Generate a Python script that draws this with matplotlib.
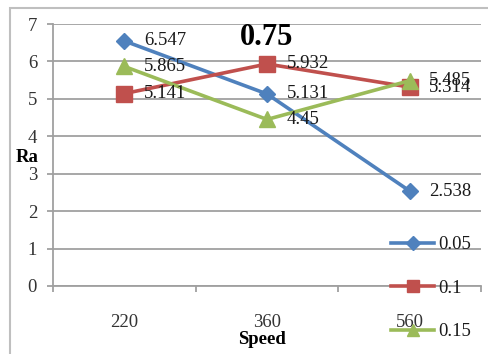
import matplotlib
matplotlib.use("Agg")
import matplotlib.pyplot as plt
from matplotlib.patches import Rectangle

speeds = ["220", "360", "560"]
series_names = ["0.05", "0.1", "0.15"]
ra_005 = [6.547, 5.131, 2.538]
ra_010 = [5.141, 5.932, 5.314]
ra_015 = [5.865, 4.45, 5.485]
title = "0.75"
yticks = [0, 1, 2, 3, 4, 5, 6, 7]

colors = ["#4F81BD", "#C0504D", "#9BBB59"]
markers = ["D", "s", "^"]
msizes = [8, 11, 11]

plt.rcParams["font.family"] = ["Liberation Serif", "DejaVu Serif"]

fig = plt.figure(figsize=(4.88, 3.54), dpi=100)
ax = fig.add_axes([0.1086, 0.1921, 0.8771, 0.7401])

x = list(range(len(speeds)))
for vals, name, c, m, ms in zip([ra_005, ra_010, ra_015], series_names, colors, markers, msizes):
    ax.plot(x, vals, color=c, lw=2.6, marker=m, markersize=ms, label=name, zorder=3)
    for xi, v in zip(x, vals):
        ax.annotate(f"{v:g}", (xi, v), xytext=(14, 0), textcoords="offset points",
                    va="center", ha="left", fontsize=13.5, color="#1a1a1a", zorder=4)

ax.set_xlim(-0.5, 2.5)
ax.set_ylim(0, 7)
ax.set_yticks(yticks)
ax.set_xticks(x)
ax.set_xticklabels(speeds)
ax.set_xticks([-0.5, 0.5, 1.5, 2.5], minor=True)
ax.tick_params(axis="x", which="major", length=0, pad=20, labelsize=13.5, labelcolor="#333333")
ax.tick_params(axis="x", which="minor", length=4.5, width=1.3, color="#A0A0A0")
ax.tick_params(axis="y", length=4.5, width=1.3, color="#A0A0A0", pad=7, labelsize=13.5,
               labelcolor="#333333")
ax.grid(axis="y", color="#A0A0A0", lw=1.3, zorder=0)
ax.set_axisbelow(True)
for s in ["top", "right"]:
    ax.spines[s].set_visible(False)
for s in ["left", "bottom"]:
    ax.spines[s].set_color("#A0A0A0")
    ax.spines[s].set_linewidth(1.3)

ax.text(0.5, 0.95, title, transform=ax.transAxes, ha="center", va="center",
        fontsize=22, fontweight="bold")
fig.text(27 / 488, 1 - 157 / 354, "Ra", ha="center", va="center", fontsize=13.5, fontweight="bold")
fig.text(262 / 488, 1 - 340 / 354, "Speed", ha="center", va="center", fontsize=13.5,
         fontweight="bold")

leg = ax.legend(loc="upper left", bbox_to_anchor=(0.79, 0.19), frameon=False,
                fontsize=13.5, labelspacing=1.41, handlelength=2.3, handletextpad=0.2,
                borderaxespad=0, borderpad=0, markerscale=0.85)
for t in leg.get_texts():
    t.set_color("#1a1a1a")

fig.patches.append(Rectangle((10 / 488, -0.1), 1.2, 1 - 8 / 354 + 0.1, transform=fig.transFigure,
                             fill=False, edgecolor="#BFBFBF", lw=1.5))

fig.savefig("out.png", dpi=100)
